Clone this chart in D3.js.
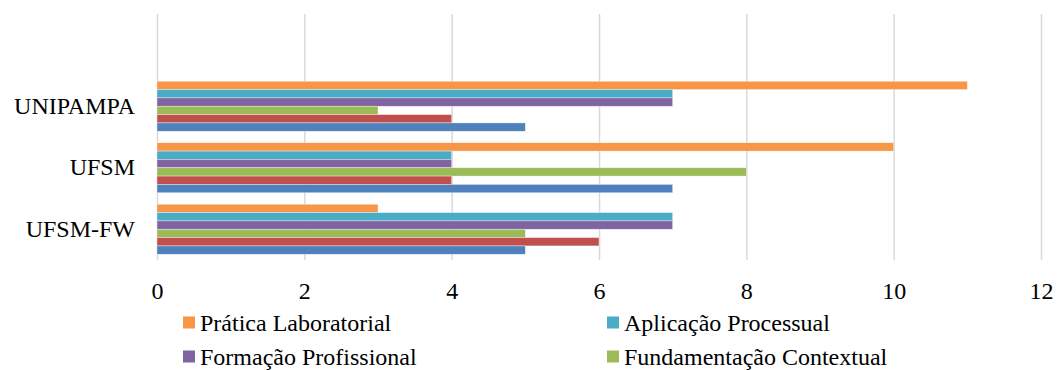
<!DOCTYPE html>
<html>
<head>
<meta charset="utf-8">
<script src="https://cdn.jsdelivr.net/npm/d3@7"></script>
<style>
  body { margin: 0; background: #fff; overflow: hidden; }
</style>
</head>
<body>
<div id="chart"></div>
<script>
var svgWidth = 1059;
var svgHeight = 370;
var font = "'Liberation Serif', 'Times New Roman', serif";

// categories (top row is an empty category, like in the original sheet)
var categories = ["", "UNIPAMPA", "UFSM", "UFSM-FW"];

// series, listed from top bar to bottom bar inside each group
var seriesNames = ["Prática Laboratorial", "Aplicação Processual", "Formação Profissional",
                   "Fundamentação Contextual", "Série 2", "Série 1"];
var seriesColors = ["#F79646", "#4BACC6", "#8064A2", "#9BBB59", "#C0504D", "#4F81BD"];

// values per series, in order UNIPAMPA, UFSM, UFSM-FW
var praticaLab = [11, 10, 3];
var aplicacaoProc = [7, 4, 7];
var formacaoProf = [7, 4, 7];
var fundamentacaoCont = [3, 8, 5];
var serie2 = [4, 4, 6];
var serie1 = [5, 7, 5];

var xTicks = [0, 2, 4, 6, 8, 10, 12];

// only the first two legend rows fit inside the picture
var legendShown = 4;

var seriesValues = [praticaLab, aplicacaoProc, formacaoProf, fundamentacaoCont, serie2, serie1];
var dataCats = categories.slice(1);

var margin = { top: 14, right: 18, bottom: 110, left: 157 };
var width = 1041 - margin.left;
var height = 260 - margin.top;

var svg = d3.select("#chart").append("svg").attr("width", svgWidth).attr("height", svgHeight);
var chartGroup = svg.append("g").attr("transform", `translate(${margin.left}, ${margin.top})`);

var xScale = d3.scaleLinear().domain([0, 12]).range([0, width]);
var yScale = d3.scaleBand().domain(categories).range([0, height]).paddingInner(0.187).paddingOuter(0.0935);
var ySub = d3.scaleBand().domain(seriesNames).range([0, yScale.bandwidth()]);

// gridlines + tick labels
var xAxis = d3.axisBottom(xScale).tickValues(xTicks).tickSize(-height).tickPadding(22).tickFormat(d3.format("d"));
var gx = chartGroup.append("g").attr("transform", `translate(0, ${height})`).call(xAxis);
gx.attr("font-family", null).attr("font-size", null);
gx.select(".domain").remove();
gx.selectAll(".tick line").attr("stroke", "#d9d9d9").attr("stroke-width", 1.5);
gx.selectAll(".tick text").style("font-family", font).style("font-size", "24px").attr("fill", "#000").attr("dy", "0.71em");

// bars
dataCats.forEach(function(cat, ci) {
  var g = chartGroup.append("g").attr("transform", `translate(0, ${yScale(cat)})`);
  seriesNames.forEach(function(name, si) {
    g.append("rect")
      .attr("x", xScale(0))
      .attr("y", ySub(name))
      .attr("width", xScale(seriesValues[si][ci]) - xScale(0))
      .attr("height", ySub.bandwidth())
      .attr("fill", seriesColors[si])
      .attr("stroke", "#ffffff")
      .attr("stroke-opacity", 0.6)
      .attr("stroke-width", 0.6);
  });
});

// category labels
var yAxis = d3.axisLeft(yScale).tickSize(0).tickPadding(22);
var gy = chartGroup.append("g").call(yAxis);
gy.attr("font-family", null).attr("font-size", null);
gy.select(".domain").remove();
gy.selectAll(".tick text").style("font-family", font).style("font-size", "24px").attr("fill", "#000");

// legend, two columns
var legend = svg.append("g");
seriesNames.slice(0, legendShown).forEach(function(name, i) {
  var col = i % 2, row = Math.floor(i / 2);
  var lx = col === 0 ? 183 : 607;
  var ly = 322.5 + row * 34;
  var item = legend.append("g").attr("transform", `translate(${lx}, ${ly})`);
  item.append("rect").attr("x", 0).attr("y", -6).attr("width", 12).attr("height", 12).attr("fill", seriesColors[i]);
  item.append("text").attr("x", 17).attr("y", 0).attr("dy", "0.35em")
    .style("font-family", font).style("font-size", "24px").attr("fill", "#000").text(name);
});
</script>
</body>
</html>
